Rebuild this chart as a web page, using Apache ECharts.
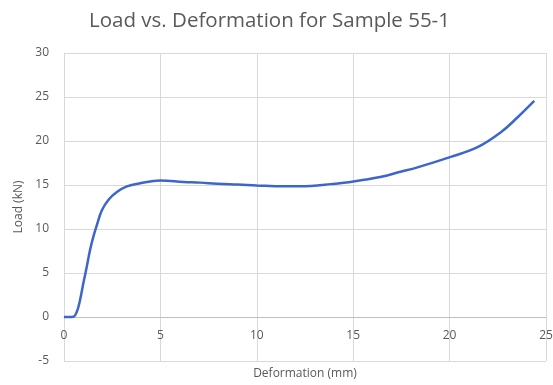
<!DOCTYPE html>
<html>
<head>
<meta charset="utf-8">
<script src="https://cdn.jsdelivr.net/npm/echarts@6/dist/echarts.min.js"></script>
<style>html,body{margin:0;padding:0;background:#fff;}#c{width:553px;height:385px;}</style>
</head>
<body>
<div id="c"></div>
<script>
var titleText = 'Load vs. Deformation for Sample 55-1';
var xName = 'Deformation (mm)';
var yName = 'Load (kN)';
var deformation = [0, 0.25, 0.48, 0.66, 0.83, 1.0, 1.18, 1.35, 1.52, 1.70, 1.96, 2.30, 2.74, 3.26, 3.95, 4.99, 6.2, 7.07, 7.94, 9.0, 10.0, 11.4, 12.8, 13.83, 14.87, 16.4, 17.46, 18.33, 20.06, 21.45, 22.66, 23.53, 24.39];
var load = [0, 0, 0.02, 0.57, 1.9, 3.8, 5.7, 7.6, 9.1, 10.4, 12.1, 13.3, 14.2, 14.85, 15.2, 15.5, 15.35, 15.27, 15.15, 15.05, 14.95, 14.85, 14.9, 15.1, 15.35, 15.9, 16.5, 17.0, 18.2, 19.3, 21.0, 22.7, 24.55];
var xMin = 0, xMax = 25, xStep = 5;
var yMin = -5, yMax = 30, yStep = 5;

var pts = deformation.map(function (d, i) { return [d, load[i]]; });
var font = 'Open Sans';
var gridTop = 53, gridBottom = 24, H = 385;
var plotH = H - gridTop - gridBottom;
var zeroOffset = -(0 - yMin) / (yMax - yMin) * plotH;
var chart = echarts.init(document.getElementById('c'));
chart.setOption({
  animation: false,
  title: {
    text: titleText, left: 84, top: 6,
    textStyle: { fontFamily: font, fontSize: 20.5, fontWeight: 'normal', color: '#595959' }
  },
  grid: { left: 64, right: 7, top: gridTop, bottom: gridBottom, outerBoundsMode: 'none', containLabel: false },
  xAxis: {
    type: 'value', min: xMin, max: xMax, interval: xStep,
    offset: zeroOffset,
    name: xName, nameLocation: 'middle', nameGap: 51,
    nameTextStyle: { fontFamily: font, fontSize: 12, color: '#595959' },
    axisLine: { onZero: false, lineStyle: { color: '#bfbfbf', width: 1 } },
    axisTick: { show: false },
    axisLabel: { margin: 13, fontFamily: font, fontSize: 12, color: '#595959' },
    splitLine: { show: true, lineStyle: { color: '#d9d9d9', width: 1 } }
  },
  yAxis: {
    type: 'value', min: yMin, max: yMax, interval: yStep,
    name: yName, nameLocation: 'middle', nameGap: 38,
    nameTextStyle: { fontFamily: font, fontSize: 12, color: '#595959' },
    axisLine: { show: true, lineStyle: { color: '#d9d9d9', width: 1 } },
    axisTick: { show: false },
    axisLabel: { margin: 15, fontFamily: font, fontSize: 12, color: '#595959' },
    splitLine: { show: true, lineStyle: { color: '#d9d9d9', width: 1 } }
  },
  series: [{
    type: 'line', data: pts, smooth: 0.4, showSymbol: false,
    lineStyle: { color: '#3d66cc', width: 2.5 }
  }]
});
</script>
</body>
</html>
